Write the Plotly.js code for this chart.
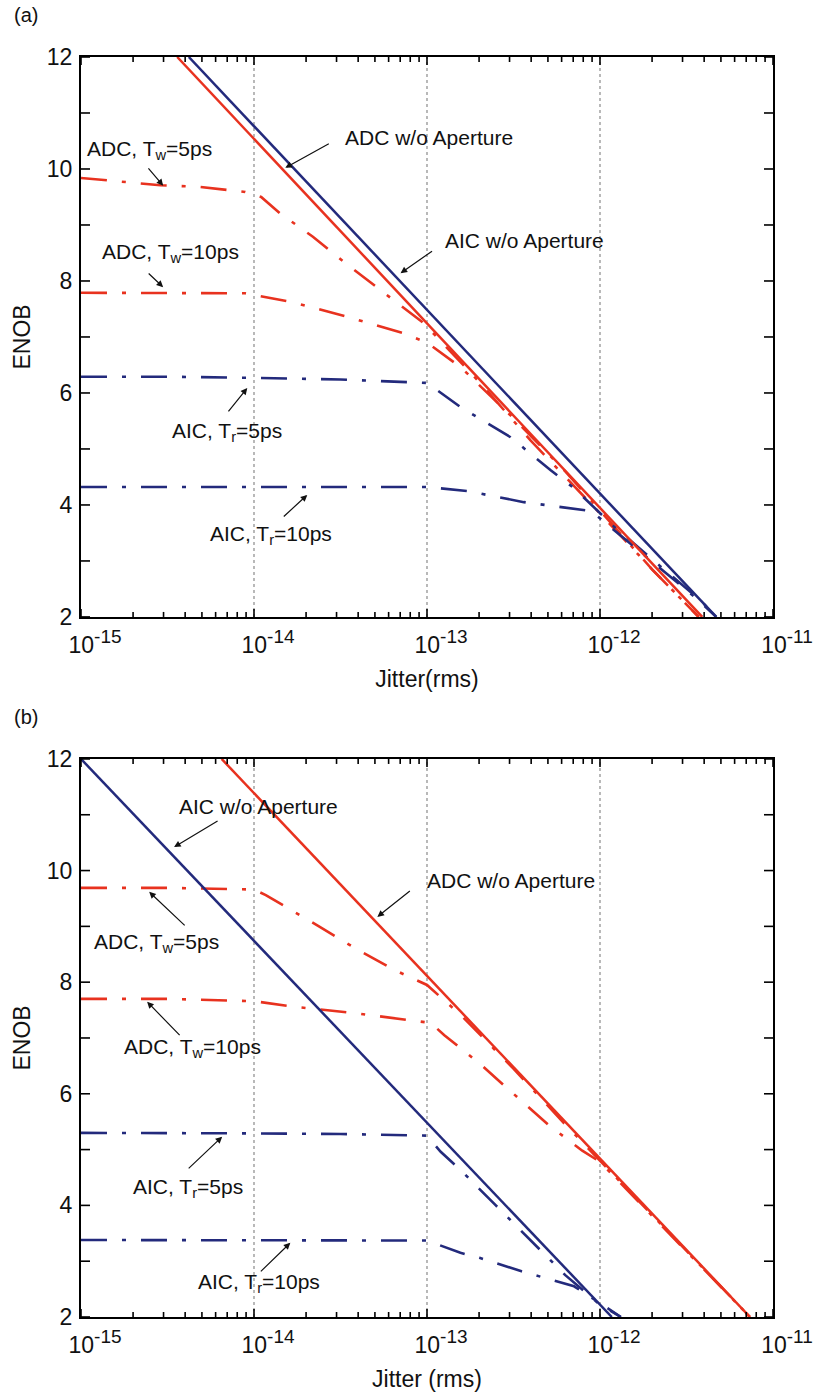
<!DOCTYPE html>
<html>
<head>
<meta charset="utf-8">
<script src="https://cdn.plot.ly/plotly-3.0.1.min.js"></script>
<style>html,body{margin:0;padding:0;background:#fff;}#chart{width:817px;height:1395px;}</style>
</head>
<body>
<div id="chart"></div>
<script>
// ---------- Data (jitter in seconds rms, ENOB in bits) ----------
// Panel (a)
const a_adcNoAp_x = [3.6e-15, 3.9e-12];
const a_adcNoAp_y = [12, 2];
const a_aicNoAp_x = [4.2e-15, 4.7e-12];
const a_aicNoAp_y = [12, 2];
const a_adcTw5_x = [1e-15, 2.88e-15, 4.9e-15, 8.9e-15, 1.1e-14, 1.41e-14, 2.19e-14, 3.31e-14, 5.37e-14, 7.24e-14, 9.55e-14, 2.0e-13, 3.98e-13, 1e-12, 2.0e-12, 3.72e-12];
const a_adcTw5_y = [9.84, 9.71, 9.68, 9.59, 9.50, 9.21, 8.79, 8.34, 7.84, 7.54, 7.25, 6.2, 5.15, 3.85, 2.85, 2.0];
const a_adcTw10_x = [1e-15, 3.16e-15, 8.9e-15, 1.62e-14, 3.47e-14, 7.24e-14, 1e-13, 1.58e-13, 3.16e-13, 6.3e-13, 1e-12, 2.0e-12, 3.72e-12];
const a_adcTw10_y = [7.79, 7.79, 7.78, 7.63, 7.36, 7.07, 6.9, 6.45, 5.55, 4.6, 3.9, 2.85, 2.0];
const a_aicTr5_x = [1e-15, 3.16e-15, 1e-14, 3.16e-14, 1e-13, 1.56e-13, 3.04e-13, 5.19e-13, 7.08e-13, 1.2e-12, 2.34e-12, 3.8e-12, 4.7e-12];
const a_aicTr5_y = [6.29, 6.29, 6.27, 6.24, 6.18, 5.75, 5.21, 4.62, 4.30, 3.62, 2.85, 2.3, 2.0];
const a_aicTr10_x = [1e-15, 1e-14, 3.16e-14, 1e-13, 1.7e-13, 3.63e-13, 8.9e-13, 1.26e-12, 2.24e-12, 3.55e-12, 4.7e-12];
const a_aicTr10_y = [4.32, 4.32, 4.33, 4.32, 4.25, 4.05, 3.89, 3.5, 2.85, 2.35, 2.0];

// Panel (b)
const b_aicNoAp_x = [1e-15, 1.17e-12];
const b_aicNoAp_y = [12, 2];
const b_adcNoAp_x = [6.5e-15, 7.36e-12];
const b_adcNoAp_y = [12, 2];
const b_adcTw5_x = [1e-15, 3.16e-15, 1e-14, 1.17e-14, 2.4e-14, 3.98e-14, 6.46e-14, 1e-13, 1.58e-13, 3.16e-13, 6.3e-13, 1e-12, 7.36e-12];
const b_adcTw5_y = [9.69, 9.69, 9.66, 9.56, 8.99, 8.58, 8.22, 7.95, 7.4, 6.45, 5.45, 4.8, 2.0];
const b_adcTw10_x = [1e-15, 3.16e-15, 1e-14, 1.7e-14, 3.72e-14, 8.3e-14, 1.05e-13, 1.26e-13, 2.0e-13, 3.16e-13, 5.0e-13, 7.9e-13, 1e-12, 7.36e-12];
const b_adcTw10_y = [7.70, 7.70, 7.66, 7.56, 7.45, 7.32, 7.27, 7.05, 6.55, 6.0, 5.45, 4.98, 4.78, 2.0];
const b_aicTr5_x = [1e-15, 3.16e-15, 1e-14, 3.16e-14, 1e-13, 1.2e-13, 1.58e-13, 2.5e-13, 3.98e-13, 6.3e-13, 1e-12, 1.32e-12];
const b_aicTr5_y = [5.30, 5.30, 5.29, 5.28, 5.25, 4.96, 4.62, 4.0, 3.38, 2.75, 2.22, 2.0];
const b_aicTr10_x = [1e-15, 3.16e-15, 1e-14, 3.16e-14, 1e-13, 1.56e-13, 2.01e-13, 3.52e-13, 7.08e-13, 1e-12, 1.32e-12];
const b_aicTr10_y = [3.38, 3.38, 3.38, 3.38, 3.37, 3.15, 3.06, 2.82, 2.55, 2.25, 2.0];

// Ticks
const xDecades = [1e-15, 1e-14, 1e-13, 1e-12, 1e-11];
const xDecadeExp = ['-15', '-14', '-13', '-12', '-11'];
const xMinorMult = [2, 3, 4, 5, 6, 7, 8, 9];
const yTickVals = [2, 4, 6, 8, 10, 12];
const yTickText = ['2', '4', '6', '8', '10', '12'];
const yMinorVals = [3, 5, 7, 9, 11];

// ---------- Styles ----------
const RED = '#e8321f';
const BLUE = '#232a7c';
const DASHDOT = '26px,15px,4px,15px';
const FONT = 'Liberation Sans, Arial, Helvetica, sans-serif';
const PLOT_W = 692, PLOT_H_A = 560, PLOT_H_B = 558;

const xTickText = xDecadeExp.map(e => '10<sup><span style="font-size:19px">' + e + '</span></sup>');
const xMinorVals = [];
xDecades.slice(0, -1).forEach(d => xMinorMult.forEach(m => xMinorVals.push(d * m)));

function line(x, y, color, dash, xa, ya) {
  return {x: x, y: y, type: 'scatter', mode: 'lines', xaxis: xa, yaxis: ya,
    line: {color: color, width: dash ? 2.6 : 2.5, dash: dash || 'solid'}, hoverinfo: 'skip'};
}

const traces = [
  line(a_adcTw5_x, a_adcTw5_y, RED, DASHDOT, 'x', 'y'),
  line(a_adcTw10_x, a_adcTw10_y, RED, DASHDOT, 'x', 'y'),
  line(a_aicTr5_x, a_aicTr5_y, BLUE, DASHDOT, 'x', 'y'),
  line(a_aicTr10_x, a_aicTr10_y, BLUE, DASHDOT, 'x', 'y'),
  line(a_adcNoAp_x, a_adcNoAp_y, RED, null, 'x', 'y'),
  line(a_aicNoAp_x, a_aicNoAp_y, BLUE, null, 'x', 'y'),
  line(b_adcTw5_x, b_adcTw5_y, RED, DASHDOT, 'x2', 'y2'),
  line(b_adcTw10_x, b_adcTw10_y, RED, DASHDOT, 'x2', 'y2'),
  line(b_aicTr5_x, b_aicTr5_y, BLUE, DASHDOT, 'x2', 'y2'),
  line(b_aicTr10_x, b_aicTr10_y, BLUE, DASHDOT, 'x2', 'y2'),
  line(b_adcNoAp_x, b_adcNoAp_y, RED, null, 'x2', 'y2'),
  line(b_aicNoAp_x, b_aicNoAp_y, BLUE, null, 'x2', 'y2')
];

function xAxis(anchor, title) {
  return {
    anchor: anchor, domain: [0, 1], type: 'log', range: [-15, -11],
    tickmode: 'array', tickvals: xDecades, ticktext: xTickText,
    ticks: '', showline: true, linecolor: '#000', linewidth: 2, mirror: true,
    showgrid: false, zeroline: false, fixedrange: true,
    tickfont: {family: FONT, size: 23, color: '#111'},
    ticklabelstandoff: 6,
    ticklabelshift: 14,
    title: {text: title, font: {family: FONT, size: 23, color: '#111'}, standoff: 14}
  };
}
function yAxis(anchor, domain) {
  return {
    anchor: anchor, domain: domain, range: [2, 12],
    tickmode: 'array', tickvals: yTickVals, ticktext: yTickText,
    ticks: '', showline: true, linecolor: '#000', linewidth: 2, mirror: true,
    showgrid: false, zeroline: false, fixedrange: true,
    tickfont: {family: FONT, size: 23, color: '#111'},
    ticklabelstandoff: 2,
    title: {text: 'ENOB', font: {family: FONT, size: 23, color: '#111'}, standoff: 10}
  };
}

// Grid lines and inside tick marks drawn as shapes in axis-domain coordinates
const lx0 = Math.log10(xDecades[0]), lx1 = Math.log10(xDecades[xDecades.length - 1]);
const frac = v => (Math.log10(v) - lx0) / (lx1 - lx0);
const shapes = [];
[['x', 'y', PLOT_H_A], ['x2', 'y2', PLOT_H_B]].forEach(([xa, ya, ph]) => {
  const xd = xa + ' domain', yd = ya + ' domain';
  // dotted decade grid
  xDecades.slice(1, -1).forEach(d => {
    const f = frac(d);
    shapes.push({type: 'line', xref: xd, yref: yd, x0: f, x1: f, y0: 0, y1: 1,
      layer: 'below', line: {color: '#8a8a8a', width: 1.2, dash: 'dot'}});
  });
  // x ticks (bottom and top)
  const xt = xDecades.map(v => [v, 8]).concat(xMinorVals.map(v => [v, 5]));
  xt.forEach(([v, len]) => {
    const f = frac(v), h = len / ph;
    shapes.push({type: 'line', xref: xd, yref: yd, x0: f, x1: f, y0: 0, y1: h, layer: 'above', line: {color: '#000', width: 1.6}});
    shapes.push({type: 'line', xref: xd, yref: yd, x0: f, x1: f, y0: 1, y1: 1 - h, layer: 'above', line: {color: '#000', width: 1.6}});
  });
  // y ticks (left and right)
  const yt = yTickVals.concat(yMinorVals);
  const w = 9 / PLOT_W;
  yt.forEach(v => {
    shapes.push({type: 'line', xref: xd, yref: ya, x0: 0, x1: w, y0: v, y1: v, layer: 'above', line: {color: '#000', width: 1.6}});
    shapes.push({type: 'line', xref: xd, yref: ya, x0: 1, x1: 1 - w, y0: v, y1: v, layer: 'above', line: {color: '#000', width: 1.6}});
  });
});

function label(xr, yr, lx, ly, html) {
  return {xref: xr, yref: yr, x: lx, y: ly, text: html, showarrow: false,
    xanchor: 'left', yanchor: 'middle', font: {family: FONT, size: 21, color: '#111'}};
}
function arrow(xr, yr, tx, ty, ax, ay) {
  return {xref: xr, yref: yr, x: tx, y: ty, ax: ax, ay: ay, text: '', showarrow: true,
    arrowhead: 2, arrowsize: 1.1, arrowwidth: 1.2, arrowcolor: '#111', standoff: 0, startstandoff: 0};
}

const annotations = [
  // panel labels
  {xref: 'paper', yref: 'paper', x: -0.1, y: 1.0333, text: '(a)', showarrow: false, xanchor: 'left', yanchor: 'middle', font: {family: FONT, size: 20, color: '#111'}},
  {xref: 'paper', yref: 'paper', x: -0.1, y: 0.476, text: '(b)', showarrow: false, xanchor: 'left', yanchor: 'middle', font: {family: FONT, size: 20, color: '#111'}},
  // panel (a) labels
  label('x', 'y', -13.483, 10.57, 'ADC w/o Aperture'),
  label('x', 'y', -12.91, 8.73, 'AIC w/o Aperture'),
  label('x', 'y', -14.977, 10.34, 'ADC, T<sub>w</sub>=5ps'),
  label('x', 'y', -14.89, 8.50, 'ADC, T<sub>w</sub>=10ps'),
  label('x', 'y', -14.485, 5.30, 'AIC, T<sub>r</sub>=5ps'),
  label('x', 'y', -14.265, 3.46, 'AIC, T<sub>r</sub>=10ps'),
  arrow('x', 'y', -13.819, 10.02, 45, -25),
  arrow('x', 'y', -13.153, 8.14, 33, -23),
  arrow('x', 'y', -14.525, 9.70, -16, -19),
  arrow('x', 'y', -14.525, 7.89, -16, -15),
  arrow('x', 'y', -14.039, 6.09, -20, 25),
  arrow('x', 'y', -13.692, 4.18, -25, 23),
  // panel (b) labels
  label('x2', 'y2', -14.444, 11.14, 'AIC w/o Aperture'),
  label('x2', 'y2', -13.014, 9.83, 'ADC w/o Aperture'),
  label('x2', 'y2', -14.936, 8.70, 'ADC, T<sub>w</sub>=5ps'),
  label('x2', 'y2', -14.763, 6.82, 'ADC, T<sub>w</sub>=10ps'),
  label('x2', 'y2', -14.711, 4.31, 'AIC, T<sub>r</sub>=5ps'),
  label('x2', 'y2', -14.334, 2.61, 'AIC, T<sub>r</sub>=10ps'),
  arrow('x2', 'y2', -14.462, 10.42, 45, -27),
  arrow('x2', 'y2', -13.287, 9.17, 34, -27),
  arrow('x2', 'y2', -14.606, 9.62, 37, 35),
  arrow('x2', 'y2', -14.618, 7.65, 34, 35),
  arrow('x2', 'y2', -14.184, 5.23, -35, 33),
  arrow('x2', 'y2', -13.79, 3.33, -31, 30)
];

const layout = {
  width: 817, height: 1395,
  margin: {l: 81, r: 44, t: 57, b: 78},
  paper_bgcolor: '#fff', plot_bgcolor: '#fff',
  showlegend: false,
  font: {family: FONT, size: 22, color: '#111'},
  xaxis: xAxis('y', 'Jitter(rms)'),
  yaxis: yAxis('x', [0.5556, 1]),
  xaxis2: xAxis('y2', 'Jitter (rms)'),
  yaxis2: yAxis('x2', [0, 0.4429]),
  shapes: shapes,
  annotations: annotations
};

Plotly.newPlot('chart', traces, layout, {staticPlot: true, displayModeBar: false});
</script>
</body>
</html>
